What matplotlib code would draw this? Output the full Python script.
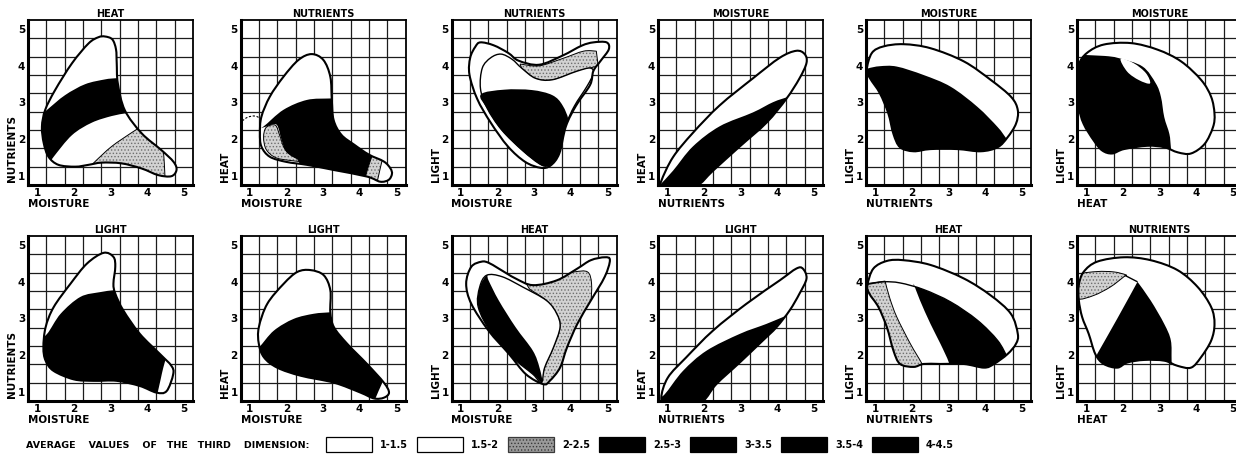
import numpy as np
import matplotlib
matplotlib.use('Agg')
import matplotlib.pyplot as plt
from matplotlib.path import Path
from matplotlib.patches import PathPatch, Rectangle

plt.rcParams['font.family'] = ['DejaVu Sans']
plt.rcParams['font.weight'] = 'bold'
plt.rcParams['hatch.linewidth'] = 0.6

# ---- data (axis units 1..5) ----
TICKS = [1, 2, 3, 4, 5]
TITLES = ['HEAT', 'NUTRIENTS', 'NUTRIENTS', 'MOISTURE', 'MOISTURE', 'MOISTURE',
          'LIGHT', 'LIGHT', 'HEAT', 'LIGHT', 'HEAT', 'NUTRIENTS']
XLABELS = ['MOISTURE', 'MOISTURE', 'MOISTURE', 'NUTRIENTS', 'NUTRIENTS', 'HEAT',
           'MOISTURE', 'MOISTURE', 'MOISTURE', 'NUTRIENTS', 'NUTRIENTS', 'HEAT']
YLABELS = ['NUTRIENTS', 'HEAT', 'LIGHT', 'HEAT', 'LIGHT', 'LIGHT',
           'NUTRIENTS', 'HEAT', 'LIGHT', 'HEAT', 'LIGHT', 'LIGHT']

LEGEND_TITLE = 'AVERAGE    VALUES    OF   THE   THIRD    DIMENSION:'
LEGEND_LABELS = ['1-1.5', '1.5-2', '2-2.5', '2.5-3', '3-3.5', '3.5-4', '4-4.5']
LEGEND_FILLS = ['white', 'white', 'dot', 'black', 'black', 'black', 'black']

# panel 1
P1_OUT = [(2.85, 4.80), (3.05, 4.72), (3.15, 4.45), (3.17, 4.07), (3.20, 3.52), (3.39, 2.79),
          (3.85, 2.16), (4.39, 1.70), (4.72, 1.38), (4.80, 1.16), (4.66, 0.99), (4.30, 1.02),
          (3.85, 1.20), (3.30, 1.34), (2.76, 1.36), (2.40, 1.30), (2.04, 1.25), (1.58, 1.30),
          (1.31, 1.52), (1.18, 1.89), (1.13, 2.34), (1.22, 2.80), (1.49, 3.34), (1.95, 4.07),
          (2.40, 4.61), (2.67, 4.78)]
P1_BLACK = [[(1.05, 2.62), (1.27, 2.80), (1.76, 3.20), (2.31, 3.50), (2.85, 3.63), (3.12, 3.66), (3.45, 3.68)],
            [(3.7, 2.72)],
            [(3.39, 2.70), (3.03, 2.63), (2.49, 2.45), (1.95, 2.11), (1.45, 1.52), (1.30, 1.30)],
            [(0.9, 1.4)]]
P1_DOT = [[(2.45, 1.25), (2.58, 1.39), (3.03, 1.80), (3.58, 2.18), (4.0, 2.45)],
          [(4.6, 2.2)],
          [(4.40, 2.0), (4.44, 1.69), (4.47, 1.30), (4.49, 0.85)],
          [(2.4, 0.9)]]

# panel 2
P2_OUT = [(2.69, 4.32), (3.01, 4.16), (3.20, 3.70), (3.24, 3.07), (3.29, 2.52), (3.50, 2.12),
          (3.85, 1.85), (4.25, 1.58), (4.66, 1.39), (4.84, 1.20), (4.88, 1.05), (4.79, 0.89),
          (4.56, 0.84), (4.20, 0.98), (3.29, 1.16), (2.56, 1.30), (2.00, 1.38), (1.55, 1.52),
          (1.32, 1.80), (1.28, 2.16), (1.32, 2.61), (1.55, 3.16), (1.92, 3.70), (2.33, 4.16)]
P2_BLACK = [[(1.15, 2.25), (1.37, 2.34), (1.92, 2.80), (2.56, 3.07), (3.20, 3.11), (3.55, 3.12)],
            [(4.8, 1.9)],
            [(4.36, 1.60), (4.22, 1.20), (4.10, 0.75)],
            [(2.6, 0.9)],
            [(2.3, 1.45), (2.0, 1.65), (1.87, 1.98), (1.74, 2.39), (1.5, 2.36)]]
P2_DOT_LEFT = [(1.45, 2.32), (1.70, 2.38), (1.82, 2.10), (1.95, 1.75), (2.20, 1.52), (2.60, 1.38),
               (2.10, 1.42), (1.70, 1.50), (1.45, 1.72), (1.38, 2.05)]
P2_DOT_TIP = [[(4.36, 1.60), (4.22, 1.20), (4.10, 0.75)],
              [(4.4, 0.6)],
              [(4.47, 0.80), (4.56, 1.20), (4.62, 1.45)],
              [(4.7, 1.8)]]
P2_DASH = [(0.80, 2.50), (0.95, 2.60), (1.15, 2.63), (1.32, 2.55)]

# panel 3
P3_OUT = [(1.54, 4.64), (1.90, 4.56), (2.30, 4.35), (2.58, 4.14), (3.14, 4.03), (3.78, 4.28),
          (4.30, 4.55), (4.62, 4.64), (4.98, 4.64), (5.04, 4.45), (4.82, 4.14), (4.62, 3.86),
          (4.53, 3.48), (4.15, 2.92), (3.87, 2.35), (3.69, 1.61), (3.45, 1.28), (3.18, 1.22),
          (2.76, 1.38), (2.29, 1.80), (1.82, 2.45), (1.45, 3.10), (1.24, 3.76), (1.26, 4.22),
          (1.40, 4.52)]
P3_INNER = [(1.54, 3.38), (1.59, 3.94), (1.82, 4.22), (2.10, 4.32), (2.40, 4.18), (2.66, 3.94),
            (3.04, 3.66), (3.50, 3.62), (4.16, 3.85), (4.53, 3.94), (4.62, 3.80), (4.45, 3.45),
            (4.10, 2.90), (3.88, 2.40), (3.72, 1.70), (3.45, 1.32), (3.20, 1.30), (2.70, 1.68),
            (2.12, 2.25), (1.72, 2.85)]
P3_DOT = [[(2.62, 4.05), (3.14, 4.00), (3.78, 4.20), (4.35, 4.40), (4.70, 4.40)],
          [(4.75, 4.0)],
          [(4.53, 3.94), (4.16, 3.85), (3.50, 3.62), (3.04, 3.66), (2.66, 3.94)]]
P3_BLACK = [(1.55, 3.22), (2.19, 3.35), (2.94, 3.34), (3.50, 3.20), (3.78, 2.92), (3.95, 2.45),
            (3.85, 1.90), (3.62, 1.40), (3.32, 1.26), (3.13, 1.33), (2.66, 1.70), (2.10, 2.26),
            (1.73, 2.82)]

# panel 4
P4_OUT = [(0.84, 0.86), (1.16, 1.51), (1.70, 2.17), (2.43, 2.92), (3.34, 3.66), (4.07, 4.22),
          (4.52, 4.41), (4.75, 4.32), (4.80, 4.08), (4.61, 3.66), (4.25, 3.10), (3.71, 2.45),
          (2.98, 1.80), (2.25, 1.14), (1.80, 0.72), (1.20, 0.60), (0.86, 0.70)]
P4_BLACK = [[(0.80, 0.75), (1.16, 1.14), (1.70, 1.80), (2.43, 2.35), (3.34, 2.73), (3.89, 3.01),
             (4.30, 3.15), (4.55, 3.20)],
            [(4.6, 2.5)], [(3.0, 0.5)], [(0.7, 0.5)]]

# panel 5
P5_OUT = [(0.77, 3.89), (0.91, 4.35), (1.23, 4.53), (1.78, 4.59), (2.51, 4.48), (3.42, 4.12),
          (4.16, 3.61), (4.71, 3.15), (4.89, 2.79), (4.84, 2.42), (4.61, 2.05), (4.34, 1.78),
          (3.88, 1.67), (3.24, 1.73), (2.51, 1.73), (2.05, 1.67), (1.68, 1.78), (1.50, 2.14),
          (1.36, 2.70), (1.13, 3.25), (0.86, 3.66)]
P5_BLACK = [[(0.65, 3.85), (0.81, 3.93), (1.13, 3.99), (1.59, 3.98), (2.32, 3.75), (3.06, 3.43),
             (3.79, 2.88), (4.34, 2.33), (4.57, 2.03), (4.75, 1.80)],
            [(4.5, 1.3)], [(1.0, 1.3)], [(0.6, 3.0)]]

# panel 6
P6_OUT = [(0.80, 4.03), (1.02, 4.35), (1.48, 4.58), (2.22, 4.62), (2.95, 4.44), (3.59, 4.12),
          (4.14, 3.61), (4.41, 3.15), (4.50, 2.69), (4.46, 2.33), (4.23, 1.87), (3.86, 1.61),
          (3.50, 1.64), (3.13, 1.78), (2.67, 1.82), (2.03, 1.73), (1.71, 1.61), (1.44, 1.69),
          (1.21, 1.96), (0.93, 2.42), (0.80, 2.88), (0.77, 3.52)]
P6_BLACK = [[(0.60, 4.35), (0.89, 4.30), (1.50, 4.27), (1.89, 4.21), (2.54, 3.98), (2.90, 3.52),
             (3.04, 3.15), (3.13, 2.60), (3.27, 2.14), (3.31, 1.78), (3.35, 1.40)],
            [(0.6, 1.3)]]
P6_HOLE = [(1.94, 4.19), (2.30, 4.07), (2.63, 3.80), (2.74, 3.52), (2.44, 3.61), (2.12, 3.84)]

# panel 7
P7_OUT = [(2.81, 4.79), (3.08, 4.68), (3.13, 4.41), (3.08, 3.95), (3.13, 3.68), (3.35, 3.22),
          (3.80, 2.58), (4.35, 2.03), (4.66, 1.71), (4.71, 1.48), (4.53, 1.02), (4.25, 0.98),
          (3.80, 1.16), (3.17, 1.30), (2.54, 1.30), (2.00, 1.34), (1.45, 1.57), (1.23, 1.85),
          (1.17, 2.21), (1.23, 2.76), (1.45, 3.31), (1.91, 3.95), (2.36, 4.50)]
P7_BLACK = [[(1.00, 2.40), (1.27, 2.58), (1.64, 3.13), (2.18, 3.59), (2.72, 3.72), (3.08, 3.77), (3.40, 3.80)],
            [(4.8, 2.3)],
            [(4.55, 2.05), (4.44, 1.66), (4.37, 1.35), (4.28, 0.95)],
            [(4.3, 0.7)], [(1.0, 0.7)]]

# panel 8
P8_OUT = [(2.66, 4.32), (3.02, 4.18), (3.20, 3.77), (3.20, 3.17), (3.30, 2.76), (3.66, 2.31),
          (4.20, 1.76), (4.66, 1.25), (4.80, 0.98), (4.66, 0.84), (4.39, 0.82), (4.02, 0.98),
          (3.30, 1.25), (2.39, 1.44), (1.75, 1.66), (1.39, 1.94), (1.25, 2.31), (1.25, 2.76),
          (1.48, 3.40), (1.93, 3.95), (2.30, 4.27)]
P8_BLACK = [[(1.00, 2.05), (1.25, 2.21), (1.66, 2.67), (2.20, 2.99), (2.75, 3.13), (3.20, 3.17), (3.50, 3.20)],
            [(4.9, 1.6)],
            [(4.68, 1.40), (4.61, 1.23), (4.43, 0.82), (4.38, 0.60)],
            [(1.0, 0.6)]]

# panel 9
P9_OUT = [(1.57, 4.55), (1.29, 4.41), (1.15, 3.95), (1.29, 3.40), (1.76, 2.67), (2.32, 2.03),
          (2.78, 1.48), (3.25, 1.21), (3.43, 1.30), (3.71, 1.66), (3.90, 2.21), (4.18, 2.85),
          (4.55, 3.49), (4.93, 4.14), (5.07, 4.59), (4.93, 4.67), (4.55, 4.59), (4.18, 4.36),
          (3.62, 4.04), (2.97, 3.91), (2.50, 4.09), (2.04, 4.36), (1.76, 4.52)]
P9_INNER = [(1.71, 4.18), (2.13, 4.14), (2.69, 3.86), (3.34, 3.49), (3.62, 3.13), (3.71, 2.76),
            (3.53, 2.21), (3.29, 1.66), (3.20, 1.25), (2.97, 1.48), (2.41, 1.94), (1.85, 2.58),
            (1.48, 3.31), (1.52, 3.86)]
P9_DOT = [[(2.70, 4.10), (3.50, 4.15), (4.09, 4.27), (4.46, 4.27), (4.57, 3.95), (4.55, 3.35)],
          [(5.0, 3.0)], [(3.6, 0.8)],
          [(3.20, 1.25), (3.29, 1.66), (3.53, 2.21), (3.71, 2.76), (3.62, 3.13), (3.34, 3.49), (2.88, 3.80)]]
P9_BLACK = [(1.71, 4.18), (1.76, 4.04), (2.04, 3.49), (2.50, 2.76), (2.97, 2.12), (3.15, 1.66),
            (3.22, 1.25), (2.97, 1.48), (2.41, 1.94), (1.85, 2.58), (1.48, 3.31), (1.52, 3.86)]

# panel 10
P10_OUT = [(0.84, 0.84), (1.02, 1.39), (1.52, 1.94), (2.25, 2.67), (3.16, 3.40), (4.07, 4.04),
           (4.52, 4.36), (4.70, 4.36), (4.80, 4.09), (4.61, 3.68), (4.34, 3.22), (3.98, 2.76),
           (3.61, 2.40), (2.98, 1.80), (2.34, 1.21), (1.98, 0.75), (1.50, 0.55), (1.00, 0.60)]
P10_BLACK = [[(0.75, 0.85), (0.93, 0.93), (1.43, 1.57), (2.07, 2.12), (2.98, 2.58), (3.70, 2.85),
              (4.16, 3.04), (4.40, 3.12)],
             [(4.4, 2.5)], [(2.5, 0.5)], [(0.7, 0.5)]]

# panel 11
P11_OUT = [(0.79, 3.91), (0.95, 4.36), (1.32, 4.57), (1.77, 4.59), (2.51, 4.46), (3.42, 4.09),
           (4.15, 3.63), (4.70, 3.13), (4.89, 2.58), (4.84, 2.31), (4.61, 2.03), (4.24, 1.76),
           (3.97, 1.66), (3.42, 1.76), (2.78, 1.76), (2.32, 1.76), (2.05, 1.68), (1.68, 1.76),
           (1.50, 2.12), (1.32, 2.76), (1.09, 3.31), (0.84, 3.68)]
P11_LINE = [(0.78, 3.93), (1.23, 4.00), (1.68, 3.97), (2.32, 3.79), (3.06, 3.45), (3.79, 2.95),
            (4.34, 2.40), (4.60, 1.95)]
P11_DOT = [[(1.27, 4.02), (1.40, 3.55), (1.59, 3.04), (1.96, 2.31), (2.28, 1.76), (2.38, 1.50)],
           [(0.6, 1.5)], [(0.6, 3.93)]]
P11_BLACK = [[(2.05, 3.95), (2.22, 3.50), (2.51, 2.85), (2.78, 2.31), (3.01, 1.80), (3.08, 1.45)],
             [(4.8, 1.45)],
             [(4.60, 1.95), (4.34, 2.40), (3.79, 2.95), (3.06, 3.45), (2.32, 3.79), (2.05, 3.88)]]

# panel 12
P12_OUT = [(0.80, 3.91), (0.93, 4.27), (1.30, 4.55), (2.03, 4.67), (2.76, 4.59), (3.49, 4.32),
           (4.04, 3.86), (4.41, 3.31), (4.50, 2.85), (4.41, 2.40), (4.13, 1.94), (3.86, 1.66),
           (3.49, 1.71), (3.13, 1.85), (2.58, 1.87), (2.12, 1.80), (1.85, 1.66), (1.48, 1.76),
           (1.25, 2.03), (1.07, 2.58), (0.89, 3.04), (0.80, 3.50)]
P12_DOT = [(0.78, 3.54), (1.21, 3.63), (1.66, 3.86), (2.03, 4.14), (2.08, 4.19), (1.76, 4.27),
           (1.30, 4.28), (0.84, 4.20), (0.76, 3.90)]
P12_BLACK = [[(2.40, 4.00), (2.76, 3.49), (3.13, 2.85), (3.31, 2.40), (3.33, 1.85), (3.35, 1.30)],
             [(1.2, 1.3)],
             [(1.30, 2.03), (1.85, 3.00), (2.40, 4.00)]]
P12_LINE = [(2.05, 4.18), (2.40, 4.00)]

PANELS = [
    dict(out=P1_OUT, dot=[P1_DOT], black=[P1_BLACK]),
    dict(out=P2_OUT, dot=[P2_DOT_LEFT, P2_DOT_TIP], black=[P2_BLACK], dash=[P2_DASH]),
    dict(out=P3_OUT, inner=[P3_INNER], dot=[P3_DOT], black=[P3_BLACK]),
    dict(out=P4_OUT, black=[P4_BLACK]),
    dict(out=P5_OUT, black=[P5_BLACK]),
    dict(out=P6_OUT, black=[P6_BLACK], hole=[P6_HOLE]),
    dict(out=P7_OUT, black=[P7_BLACK]),
    dict(out=P8_OUT, black=[P8_BLACK]),
    dict(out=P9_OUT, dot=[P9_DOT], inner=[P9_INNER], black=[P9_BLACK], black_in_inner=True),
    dict(out=P10_OUT, black=[P10_BLACK]),
    dict(out=P11_OUT, dot=[P11_DOT], black=[P11_BLACK], lines=[P11_LINE]),
    dict(out=P12_OUT, dot=[P12_DOT], black=[P12_BLACK], lines=[P12_LINE]),
]


# ---- helpers: smooth curves through the read-off points ----
def catmull(pts, closed):
    p = np.asarray(pts, float)
    n = len(p)
    verts, codes = [p[0]], [Path.MOVETO]
    for i in range(n if closed else n - 1):
        if closed:
            a, b, c, d = p[i - 1], p[i], p[(i + 1) % n], p[(i + 2) % n]
        else:
            a, b, c, d = p[max(i - 1, 0)], p[i], p[i + 1], p[min(i + 2, n - 1)]
        verts += [b + (c - a) / 6, c - (d - b) / 6, c]
        codes += [Path.CURVE4] * 3
    return verts, codes


def shape(pts):
    "closed smooth blob, or a list of smooth chains joined by straight lines"
    if isinstance(pts[0][0], (list, tuple)):
        verts, codes = [], []
        for part in pts:
            if len(part) == 1:
                v, c = [np.asarray(part[0], float)], [Path.MOVETO]
            else:
                v, c = catmull(part, False)
            if verts:
                c[0] = Path.LINETO
            verts += v
            codes += c
    else:
        verts, codes = catmull(pts, True)
    verts.append(verts[0])
    codes.append(Path.CLOSEPOLY)
    return Path(verts, codes)


def open_line(pts):
    v, c = catmull(pts, False)
    return Path(v, c)


def draw_panel(ax, spec):
    outer = PathPatch(shape(spec['out']), fc='white', ec='none', zorder=2)
    ax.add_patch(outer)
    for pts in spec.get('dot', []):
        p = PathPatch(shape(pts), fc='#d2d2d2', ec='#6e6e6e', hatch='.....', lw=0, zorder=3)
        ax.add_patch(p)
        p.set_clip_path(outer)
        e = PathPatch(shape(pts), fc='none', ec='black', lw=0.7, zorder=3.1)
        ax.add_patch(e)
        e.set_clip_path(outer)
    inner_patch = None
    for pts in spec.get('inner', []):
        inner_patch = PathPatch(shape(pts), fc='white', ec='black', lw=1.0, zorder=4)
        ax.add_patch(inner_patch)
        inner_patch.set_clip_path(outer)
    for pts in spec.get('black', []):
        b = PathPatch(shape(pts), fc='black', ec='none', zorder=5)
        ax.add_patch(b)
        if spec.get('black_in_inner') and inner_patch is not None:
            b.set_clip_path(inner_patch)
        else:
            b.set_clip_path(outer)
    for pts in spec.get('hole', []):
        ax.add_patch(PathPatch(shape(pts), fc='white', ec='none', zorder=6))
    for pts in spec.get('lines', []):
        ln = PathPatch(open_line(pts), fc='none', ec='black', lw=1.0, zorder=7)
        ax.add_patch(ln)
        ln.set_clip_path(outer)
    for pts in spec.get('dash', []):
        ax.add_patch(PathPatch(open_line(pts), fc='none', ec='black', lw=0.8,
                               ls=(0, (2, 1.5)), zorder=7))
    ax.add_patch(PathPatch(shape(spec['out']), fc='none', ec='black', lw=1.5, zorder=8))


# ---- figure ----
W, H = 1236, 454
fig = plt.figure(figsize=(W / 100, H / 100), dpi=100)
fig.patch.set_facecolor('white')

col_left = [28, 240.5, 451.5, 658, 866, 1077]
row_bottom = [185, 401]
size = 165

for k, spec in enumerate(PANELS):
    r, c = divmod(k, 6)
    ax = fig.add_axes([col_left[c] / W, (H - row_bottom[r]) / H, size / W, size / H])
    ax.set_xlim(0.75, 5.25)
    ax.set_ylim(0.75, 5.25)
    ax.set_xticks(TICKS)
    ax.set_yticks(TICKS)
    ax.set_xticks(np.arange(1.25, 5.0, 0.5), minor=True)
    ax.set_yticks(np.arange(1.25, 5.0, 0.5), minor=True)
    ax.grid(which='minor', color='#1c1c1c', lw=0.9)
    ax.grid(which='major', visible=False)
    ax.set_axisbelow(True)
    ax.tick_params(which='both', length=0)
    ax.tick_params(labelsize=7.5, pad=2)
    for side in ['top', 'right']:
        ax.spines[side].set_linewidth(1.3)
    for side in ['left', 'bottom']:
        ax.spines[side].set_linewidth(2.2)
    ax.set_title(TITLES[k], fontsize=7, fontweight='bold', pad=2.5)
    ax.text(0.0, -0.115, XLABELS[k], transform=ax.transAxes, ha='left', va='center',
            fontsize=7.5, fontweight='bold')
    ax.text(-0.095, 0.02, YLABELS[k], transform=ax.transAxes, ha='center', va='bottom',
            rotation=90, fontsize=7.5, fontweight='bold')
    draw_panel(ax, spec)

# legend row
ly = H - 445
fig.text(26 / W, ly / H, LEGEND_TITLE, ha='left', va='center', fontsize=6.8, fontweight='bold')
for i, (lab, fill) in enumerate(zip(LEGEND_LABELS, LEGEND_FILLS)):
    x0 = 326 + 91 * i
    kw = dict(fc='white', ec='black', lw=0.9)
    if fill == 'black':
        kw = dict(fc='black', ec='black', lw=0.9)
    elif fill == 'dot':
        kw = dict(fc='#9a9a9a', ec='#3a3a3a', hatch='.....', lw=0.9)
    fig.add_artist(Rectangle((x0 / W, (H - 452) / H), 46 / W, 15 / H,
                             transform=fig.transFigure, **kw))
    fig.text((x0 + 54) / W, ly / H, lab, ha='left', va='center', fontsize=7, fontweight='bold')

fig.savefig('out.png', dpi=100, facecolor='white')
